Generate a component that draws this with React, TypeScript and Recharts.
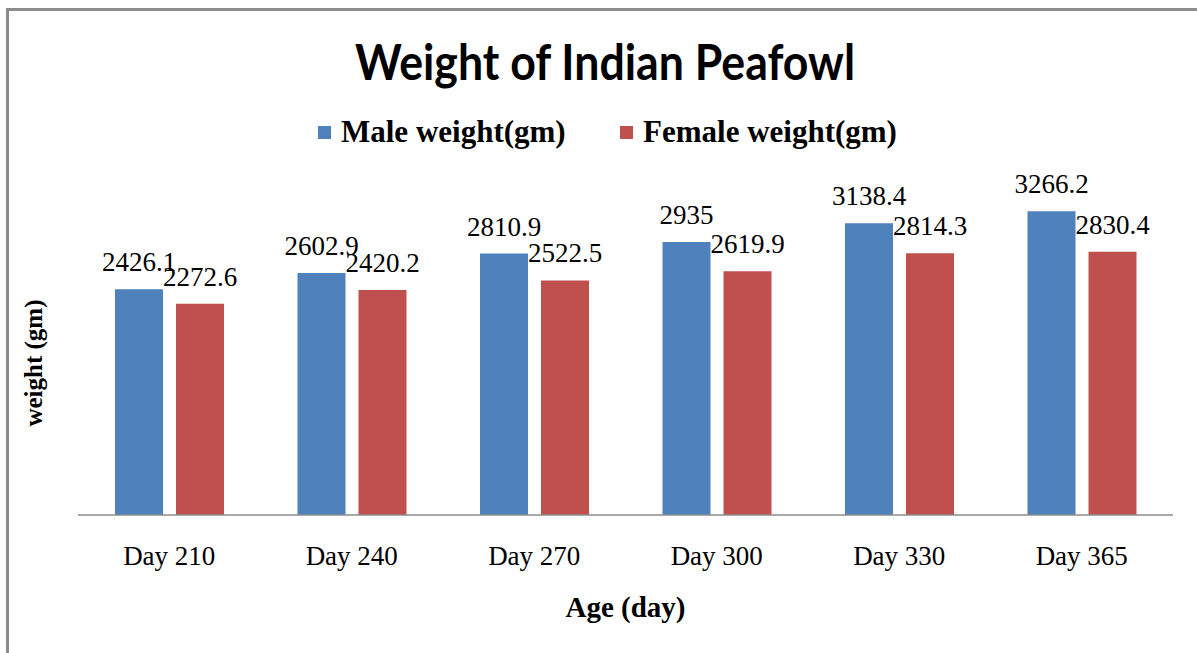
import { BarChart, Bar, XAxis, YAxis, Legend, LabelList, Label } from 'recharts'

const days = ['Day 210', 'Day 240', 'Day 270', 'Day 300', 'Day 330', 'Day 365']
const maleWeight = [2426.1, 2602.9, 2810.9, 2935, 3138.4, 3266.2]
const femaleWeight = [2272.6, 2420.2, 2522.5, 2619.9, 2814.3, 2830.4]

const seriesNames = ['Male weight(gm)', 'Female weight(gm)']
const COLORS = ['#4F81BD', '#C0504D']

const SERIF = '"Liberation Serif", "Times New Roman", serif'
const SANS = 'Lato, "Open Sans", sans-serif'

const data = days.map((day, i) => ({
  day,
  male: maleWeight[i],
  female: femaleWeight[i],
}))

// legend items sit at fixed spots like the Excel original
const LEGEND_LEFT = [318, 620]

function DayTick(props: any) {
  const { x, y, payload } = props
  return (
    <text x={x} y={y + 50} textAnchor="middle" fontFamily={SERIF} fontSize={27} fill="#000">
      {payload.value}
    </text>
  )
}

const renderValue = (props: any) => {
  const { x, y, width, value } = props
  return (
    <text
      x={Number(x) + Number(width) / 2}
      y={Number(y) - 18}
      textAnchor="middle"
      style={{ fontFamily: SERIF, fontSize: 27 }}
      fill="#000"
    >
      {value}
    </text>
  )
}

function renderLegend(props: any) {
  const payload = props.payload || []
  return (
    <div style={{ position: 'relative', height: 36, width: 1197 }}>
      {payload.map((entry: any) => {
        const i = seriesNames.indexOf(entry.value)
        return (
          <div
            key={entry.value}
            style={{
              position: 'absolute',
              left: LEGEND_LEFT[i],
              top: 0,
              height: 36,
              display: 'flex',
              alignItems: 'center',
              whiteSpace: 'nowrap',
            }}
          >
            <span style={{ width: 13, height: 13, background: COLORS[i], display: 'inline-block', marginRight: 10 }} />
            <span style={{ fontFamily: SERIF, fontWeight: 700, fontSize: 31, lineHeight: '36px', color: '#000' }}>
              {entry.value}
            </span>
          </div>
        )
      })}
    </div>
  )
}

export default function App() {
  return (
    <div style={{ position: 'absolute', left: 0, top: 0, width: 1197, height: 653, background: '#fff' }}>
      <div
        style={{
          position: 'absolute',
          left: 6,
          top: 8,
          width: 1191,
          height: 645,
          borderLeft: '3px solid #8c8c8c',
          borderTop: '3px solid #8c8c8c',
          boxSizing: 'border-box',
        }}
      />
      <svg width={1197} height={100} style={{ position: 'absolute', left: 0, top: 0 }}>
        <text
          x={605}
          y={80}
          textAnchor="middle"
          fontFamily={SANS}
          fontWeight={700}
          fontSize={50}
          textLength={500}
          lengthAdjust="spacingAndGlyphs"
          fill="#000"
        >
          Weight of Indian Peafowl
        </text>
      </svg>
      <div style={{ position: 'absolute', left: 0, top: 0 }}>
        <BarChart
          width={1197}
          height={653}
          data={data}
          margin={{ top: 143, right: 24, bottom: 28, left: 0 }}
          barSize={48}
          barGap={13}
        >
          <XAxis
            dataKey="day"
            height={110}
            tickLine={false}
            tickSize={0}
            tickMargin={0}
            axisLine={{ stroke: '#8c8c8c', strokeWidth: 1.5 }}
            tick={<DayTick />}
            interval={0}
          >
            <Label
              content={(p: any) => {
                const vb = p.viewBox || {}
                return (
                  <text
                    x={vb.x + vb.width / 2}
                    y={vb.y + 102}
                    textAnchor="middle"
                    fontFamily={SERIF}
                    fontWeight={700}
                    fontSize={29}
                    fill="#000"
                  >
                    Age (day)
                  </text>
                )
              }}
            />
          </XAxis>
          <YAxis width={78} domain={[0, 4000]} tick={false} tickLine={false} axisLine={false}>
            <Label
              content={() => (
                <text
                  x={42}
                  y={363}
                  transform="rotate(-90 42 363)"
                  textAnchor="middle"
                  fontFamily={SERIF}
                  fontWeight={700}
                  fontSize={25}
                  fill="#000"
                >
                  weight (gm)
                </text>
              )}
            />
          </YAxis>
          <Legend
            verticalAlign="middle"
            align="center"
            content={renderLegend}
            wrapperStyle={{ top: 114, left: 0, width: 1197, height: 36 }}
          />
          <Bar dataKey="male" name={seriesNames[0]} fill={COLORS[0]} isAnimationActive={false}>
            <LabelList dataKey="male" content={renderValue} />
          </Bar>
          <Bar dataKey="female" name={seriesNames[1]} fill={COLORS[1]} isAnimationActive={false}>
            <LabelList dataKey="female" content={renderValue} />
          </Bar>
        </BarChart>
      </div>
    </div>
  )
}
